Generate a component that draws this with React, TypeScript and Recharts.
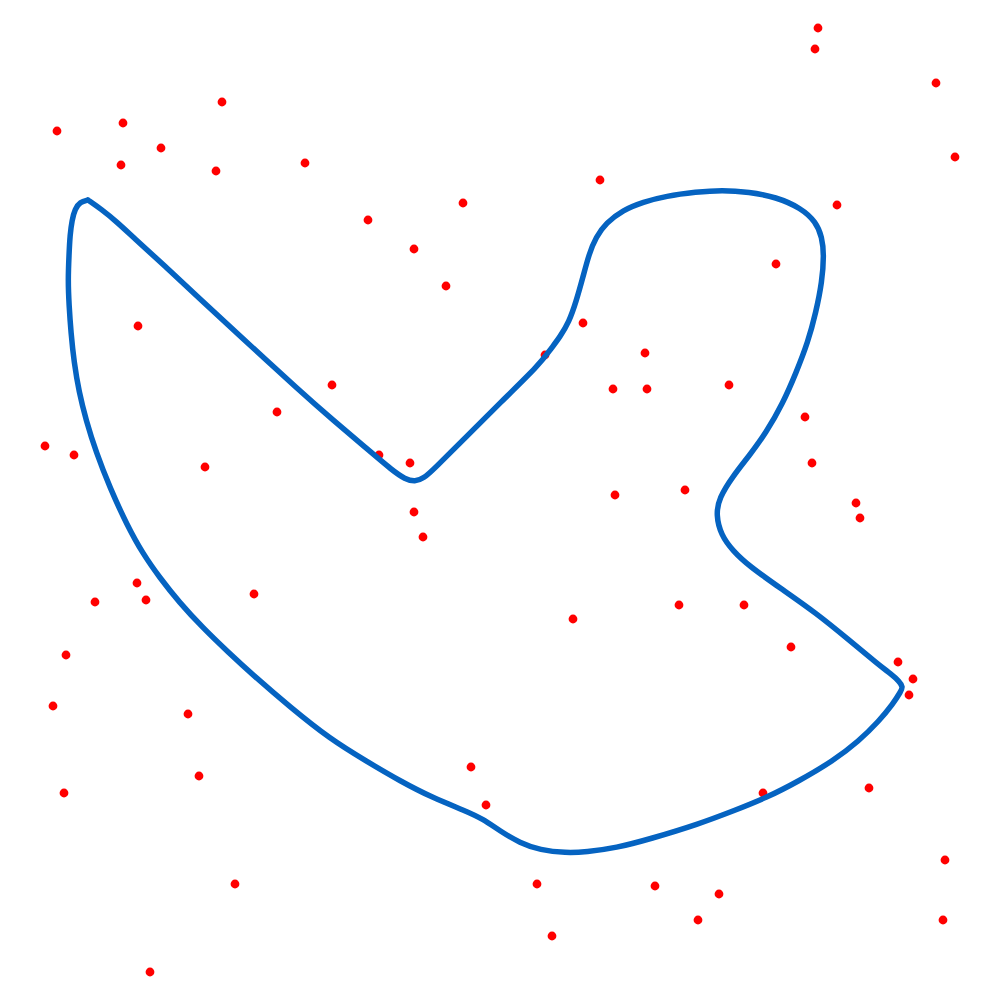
import React from 'react';
import { ScatterChart, Scatter, XAxis, YAxis } from 'recharts';

// Red sample points (x, y)
const pointsX = [
  8.18, 8.15, 9.36, 9.55, 8.37, 7.76, 2.22, 0.57, 1.23, 1.61, 1.21, 2.16, 3.05, 6.0,
  4.63, 3.68, 4.14, 4.46, 1.38, 5.83, 5.45, 6.45, 6.13, 6.47, 7.29, 3.32, 2.77, 0.45,
  0.74, 2.05, 3.79, 4.1, 8.05, 8.12, 6.85, 6.15, 8.56, 8.6, 4.14, 4.23, 1.37, 0.95,
  1.46, 2.54, 5.73, 6.79, 7.44, 7.91, 0.66, 8.98, 9.13, 9.09, 0.53, 1.88, 1.99, 0.64,
  4.71, 4.86, 7.63, 8.69, 9.45, 9.43, 2.35, 5.37, 6.55, 7.19, 6.98, 5.52, 1.5,
];
const pointsY = [
  9.72, 9.51, 9.17, 8.43, 7.95, 7.36, 8.98, 8.69, 8.77, 8.52, 8.35, 8.29, 8.37, 8.2,
  7.97, 7.8, 7.51, 7.14, 6.74, 6.77, 6.45, 6.47, 6.11, 6.11, 6.15, 6.15, 5.88, 5.54,
  5.45, 5.33, 5.45, 5.37, 5.83, 5.37, 5.1, 5.05, 4.97, 4.82, 4.88, 4.63, 4.17, 3.98,
  4.0, 4.06, 3.81, 3.95, 3.95, 3.53, 3.45, 3.38, 3.21, 3.05, 2.94, 2.86, 2.24, 2.07,
  2.33, 1.95, 2.07, 2.12, 1.4, 0.8, 1.16, 1.16, 1.14, 1.06, 0.8, 0.64, 0.28,
];

// Closed boundary curve (x, y), traced in order
const curveX = [
  0.88, 0.8, 0.75, 0.72, 0.7, 0.69, 0.68, 0.69, 0.71, 0.74, 0.79, 0.86, 0.96, 1.1,
  1.27, 1.43, 1.6, 1.79, 2.03, 2.28, 2.54, 2.9, 3.3, 3.66, 4.0, 4.33, 4.66, 4.83, 5.0,
  5.2, 5.4, 5.66, 5.86, 6.16, 6.5, 6.99, 7.33, 7.66, 7.99, 8.33, 8.59, 8.79, 8.93,
  9.01, 9.03, 8.99, 8.91, 8.79, 8.49, 8.16, 7.83, 7.49, 7.33, 7.21, 7.16, 7.19, 7.33,
  7.49, 7.66, 7.83, 7.96, 8.08, 8.16, 8.22, 8.24, 8.22, 8.16, 8.01, 7.76, 7.49, 7.22,
  6.96, 6.66, 6.43, 6.23, 6.06, 5.96, 5.89, 5.83, 5.76, 5.69, 5.6, 5.5, 5.4, 5.0,
  4.66, 4.33, 4.24, 4.15, 4.05, 3.93, 3.66, 3.33, 3.0, 2.4, 2.0, 1.67, 1.33, 1.17,
  1.01, 0.88,
];
const curveY = [
  8.0, 7.98, 7.91, 7.8, 7.65, 7.45, 7.2, 6.95, 6.67, 6.38, 6.08, 5.8, 5.48, 5.12,
  4.75, 4.46, 4.22, 3.98, 3.72, 3.48, 3.24, 2.93, 2.61, 2.39, 2.19, 2.02, 1.89, 1.81,
  1.69, 1.57, 1.5, 1.47, 1.48, 1.52, 1.61, 1.76, 1.89, 2.02, 2.19, 2.39, 2.59, 2.79,
  2.96, 3.09, 3.13, 3.19, 3.26, 3.35, 3.6, 3.87, 4.1, 4.34, 4.49, 4.65, 4.85, 5.02,
  5.24, 5.44, 5.67, 5.97, 6.27, 6.58, 6.88, 7.18, 7.45, 7.63, 7.78, 7.92, 8.03, 8.08,
  8.1, 8.08, 8.04, 7.98, 7.9, 7.77, 7.63, 7.46, 7.23, 6.98, 6.78, 6.63, 6.5, 6.36,
  5.97, 5.63, 5.3, 5.22, 5.18, 5.21, 5.29, 5.52, 5.8, 6.09, 6.64, 7.01, 7.32, 7.63,
  7.78, 7.91, 8.0,
];

const points = pointsX.map((x, i) => ({ x, y: pointsY[i] }));
const curve = curveX.map((x, i) => ({ x, y: curveY[i] }));

const RedDot = (props: any) => <circle cx={props.cx} cy={props.cy} r={4.4} fill="#ff0000" />;

const App: React.FC = () => (
  <div style={{ position: 'absolute', left: 0, top: 0, width: 1000, height: 1000, background: '#fff' }}>
    <ScatterChart width={1000} height={1000} margin={{ top: 0, right: 0, bottom: 0, left: 0 }}>
      <XAxis type="number" dataKey="x" domain={[0, 10]} hide />
      <YAxis type="number" dataKey="y" domain={[0, 10]} hide />
      <Scatter data={points} fill="#ff0000" shape={RedDot} isAnimationActive={false} />
      <Scatter
        data={curve}
        fill="#0563c1"
        line={{ stroke: '#0563c1', strokeWidth: 5.5, strokeLinejoin: 'round', strokeLinecap: 'round' }}
        lineJointType="basis"
        shape={() => <g />}
        isAnimationActive={false}
      />
    </ScatterChart>
  </div>
);

export default App;
